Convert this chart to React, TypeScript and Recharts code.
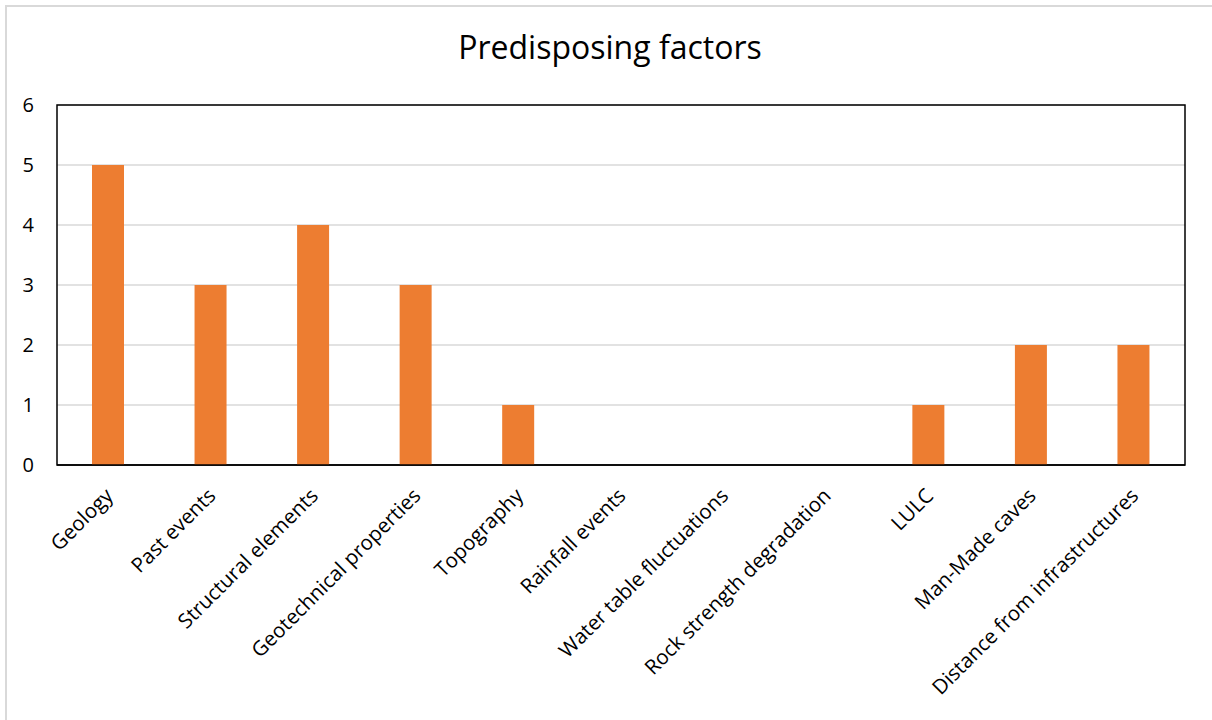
import React from "react";
import { BarChart, Bar, XAxis, YAxis, CartesianGrid, ReferenceArea } from "recharts";

const categories = [
  "Geology",
  "Past events",
  "Structural elements",
  "Geotechnical properties",
  "Topography",
  "Rainfall events",
  "Water table fluctuations",
  "Rock strength degradation",
  "LULC",
  "Man-Made caves",
  "Distance from infrastructures",
];
const values = [5, 3, 4, 3, 1, 0, 0, 0, 1, 2, 2];
const yTicks = [0, 1, 2, 3, 4, 5, 6];
const title = "Predisposing factors";

const data = categories.map((c, i) => ({ name: c, value: values[i] }));

const FONT = "'Open Sans', Lato, sans-serif";

const XTick = (props: any) => {
  const { x, payload } = props;
  const ax = x + 6;
  const ay = 497;
  return (
    <text
      x={ax}
      y={ay}
      transform={`rotate(-45, ${ax}, ${ay})`}
      textAnchor="end"
      fontFamily={FONT}
      fontSize={20.5}
      fill="#000"
    >
      {payload.value}
    </text>
  );
};

const YTick = (props: any) => {
  const { y, payload } = props;
  return (
    <text x={34} y={y} dy={7} textAnchor="end" fontFamily={FONT} fontSize={20} fill="#000">
      {payload.value}
    </text>
  );
};

export default function App() {
  return (
    <div
      style={{
        position: "absolute",
        left: 0,
        top: 0,
        width: 1212,
        height: 720,
        overflow: "hidden",
        background: "#fff",
      }}
    >
      <div
        style={{
          position: "absolute",
          left: 5,
          top: 5,
          width: 1300,
          height: 800,
          borderLeft: "2px solid #D9D9D9",
          borderTop: "2px solid #D9D9D9",
        }}
      />
      <div
        style={{
          position: "absolute",
          left: 0,
          top: 27,
          width: 1220,
          textAlign: "center",
          fontFamily: FONT,
          fontSize: 32,
          lineHeight: "40px",
          color: "#000",
        }}
      >
        {title}
      </div>
      <div style={{ position: "absolute", left: 0, top: 0 }}>
        <BarChart
          width={1212}
          height={720}
          data={data}
          margin={{ top: 105, right: 27, bottom: 0, left: 0 }}
        >
          <CartesianGrid vertical={false} stroke="#D9D9D9" strokeWidth={1.5} />
          <XAxis
            dataKey="name"
            interval={0}
            tick={<XTick />}
            tickLine={false}
            axisLine={{ stroke: "#000", strokeWidth: 1.5 }}
            height={255}
          />
          <YAxis
            domain={[0, 6]}
            ticks={yTicks}
            interval={0}
            width={57}
            tick={<YTick />}
            tickLine={false}
            axisLine={false}
          />
          <Bar dataKey="value" fill="#ED7D31" barSize={32} isAnimationActive={false} />
          <ReferenceArea y1={0} y2={6} fill="none" stroke="#000" strokeWidth={1.5} ifOverflow="visible" />
        </BarChart>
      </div>
    </div>
  );
}
